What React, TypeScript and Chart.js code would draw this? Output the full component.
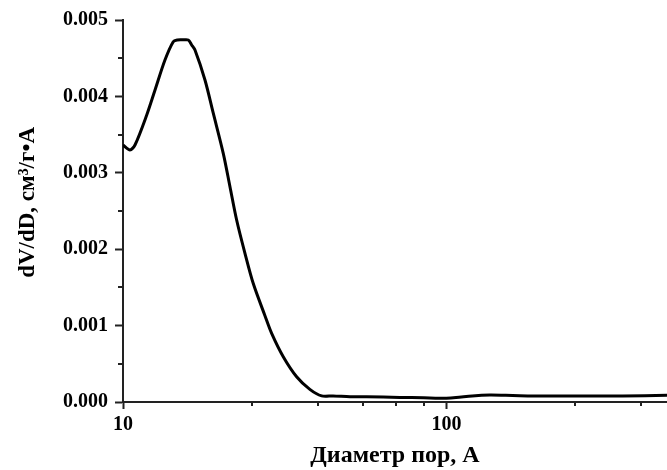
import React, { useEffect, useRef } from "react";
import { Chart, registerables } from "chart.js";

Chart.register(...registerables);

// Pore diameter, Å
const diameters = [10, 10.51, 10.89, 11.84, 12.56, 13.48, 14.3, 14.72, 15.3, 15.91, 16.3, 16.69, 17.92, 19.01, 20.41, 21.41, 22.45, 23.82, 25.27, 27.46, 28.8, 31.28, 34.4, 37.8, 41.1, 44.6, 50.3, 56.6, 71.7, 85, 95.3, 107, 120, 136, 160, 185, 264, 350, 480];
// dV/dD, cm3/g·Å
const dVdD = [0.003364, 0.0033, 0.003364, 0.003757, 0.004084, 0.004476, 0.004716, 0.004738, 0.00474, 0.004738, 0.004673, 0.004607, 0.004215, 0.00378, 0.003255, 0.002818, 0.002382, 0.001946, 0.00155, 0.00113, 0.000899, 0.000593, 0.000331, 0.000166, 0.00008, 0.00008, 0.00007, 0.00007, 0.00006, 0.000055, 0.000048, 0.00006, 0.00008, 0.00009, 0.000085, 0.00008, 0.000078, 0.00008, 0.000087];

const xTickValues = [10, 25, 40, 55, 70, 85, 100, 250, 400];
const xLabeledTicks = [10, 100];
const xMin = 10;
const xMax = 480;
const yMin = 0;
const yMax = 0.005;
const yStep = 0.0005;
const yLabelStep = 0.001;

const xTitle = "Диаметр пор, А";
const yTitle = "\u2002 dV/dD, см³/г•A";

const FONT = "'Liberation Serif', 'Times New Roman', serif";
const AXIS_COLOR = "#222";

const isMajorY = (v: number) => Math.abs(v / yLabelStep - Math.round(v / yLabelStep)) < 1e-6;

const minorTicks = {
  id: "minorTicks",
  afterDraw(chart: any) {
    const ctx = chart.ctx;
    const area = chart.chartArea;
    const xs = chart.scales.x;
    const ys = chart.scales.y;
    ctx.save();
    ctx.strokeStyle = AXIS_COLOR;
    ctx.lineWidth = 2;
    ctx.beginPath();
    xs.ticks.forEach((t: any) => {
      if (xLabeledTicks.includes(t.value)) return;
      const px = Math.round(xs.getPixelForValue(t.value));
      ctx.moveTo(px, area.bottom);
      ctx.lineTo(px, area.bottom + 4);
    });
    ys.ticks.forEach((t: any) => {
      if (isMajorY(t.value)) return;
      const py = Math.round(ys.getPixelForValue(t.value));
      ctx.moveTo(area.left - 5, py);
      ctx.lineTo(area.left, py);
    });
    ctx.stroke();
    ctx.restore();
  },
};

export default function App() {
  const ref = useRef<HTMLCanvasElement | null>(null);

  useEffect(() => {
    if (!ref.current) return;
    const data = diameters.map((d, i) => ({ x: d, y: dVdD[i] }));
    const chart = new Chart(ref.current, {
      type: "line",
      data: {
        datasets: [
          {
            data,
            borderColor: "#000",
            borderWidth: 3,
            pointRadius: 0,
            tension: 0.3,
            fill: false,
          },
        ],
      },
      options: {
        responsive: false,
        animation: false,
        events: [],
        layout: { padding: { top: 20, right: 0, left: 0, bottom: 0 } },
        plugins: { legend: { display: false }, tooltip: { enabled: false } },
        scales: {
          x: {
            type: "logarithmic",
            min: xMin,
            max: xMax,
            afterBuildTicks: (scale: any) => {
              scale.ticks = xTickValues.map((v) => ({ value: v, major: xLabeledTicks.includes(v) }));
            },
            afterFit: (scale: any) => {
              scale.height = 68;
            },
            grid: {
              display: true,
              drawOnChartArea: false,
              drawTicks: true,
              tickLength: 7,
              tickWidth: 2,
              tickColor: (c: any) => (c.tick && xLabeledTicks.includes(c.tick.value) ? AXIS_COLOR : "rgba(0,0,0,0)"),
            },
            border: { display: true, color: AXIS_COLOR, width: 2 },
            ticks: {
              autoSkip: false,
              maxRotation: 0,
              padding: 4,
              color: "#000",
              font: { family: FONT, size: 20, weight: "bold" },
              callback: (v: any) => (xLabeledTicks.includes(Number(v)) ? String(v) : ""),
            },
            title: {
              display: true,
              text: xTitle,
              color: "#000",
              padding: { top: 0, bottom: 0 },
              font: { family: FONT, size: 24, weight: "bold" },
            },
          },
          y: {
            type: "linear",
            min: yMin,
            max: yMax,
            afterFit: (scale: any) => {
              scale.width = 123;
            },
            grid: {
              display: true,
              drawOnChartArea: false,
              drawTicks: true,
              tickLength: 8,
              tickWidth: 2,
              tickColor: (c: any) => (c.tick && isMajorY(c.tick.value) ? AXIS_COLOR : "rgba(0,0,0,0)"),
            },
            border: { display: true, color: AXIS_COLOR, width: 2 },
            ticks: {
              stepSize: yStep,
              autoSkip: false,
              padding: 7,
              color: "#000",
              font: { family: FONT, size: 20, weight: "bold" },
              callback: (v: any) => (isMajorY(Number(v)) ? Number(v).toFixed(3) : ""),
            },
            title: {
              display: true,
              text: yTitle,
              color: "#000",
              padding: { top: 14, bottom: 0 },
              font: { family: FONT, size: 23, weight: "bold" },
            },
          },
        },
      },
      plugins: [minorTicks],
    } as any);
    return () => chart.destroy();
  }, []);

  return (
    <div style={{ position: "absolute", left: 0, top: 0, width: 667, height: 470, background: "#fff" }}>
      <canvas ref={ref} width={667} height={470} />
    </div>
  );
}
